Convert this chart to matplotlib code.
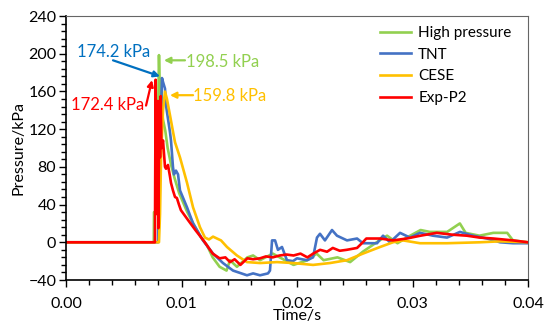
import matplotlib
matplotlib.use("Agg")
import matplotlib.pyplot as plt
from matplotlib.ticker import MultipleLocator

plt.rcParams['font.family'] = ['Lato', 'DejaVu Sans']

# time in s, pressure in kPa
t_high = [0, 0.0076, 0.00762, 0.0078, 0.00784, 0.00795, 0.00805, 0.0081, 0.00818, 0.00825,
          0.0083, 0.0084, 0.0086, 0.0088, 0.0091, 0.0094, 0.0098, 0.0105, 0.0111, 0.0117,
          0.0122, 0.0127, 0.0133, 0.0139, 0.0142, 0.0148, 0.0157, 0.0162, 0.0168, 0.0179,
          0.0185, 0.0197, 0.0209, 0.0217, 0.0223, 0.0235, 0.0246, 0.0257, 0.0269, 0.0278,
          0.0287, 0.0295, 0.0307, 0.0315, 0.0330, 0.0341, 0.0346, 0.0358, 0.0370, 0.0382,
          0.0387, 0.0400]
p_high = [0, 0, 32, 32, 110, 112, 198.5, 175, 150, 165,
          140, 130, 118, 100, 82, 68, 52, 32, 18, 5,
          -3, -16, -26, -30, -19, -26, -16, -14, -19, -12,
          -16, -24, -19, -12, -19, -16, -21, -10, 0, 7,
          -1, 5, 13, 11, 11, 20, 10, 7, 10, 10,
          2, 0]

t_tnt = [0, 0.00797, 0.0080, 0.0081, 0.00814, 0.00823, 0.00831, 0.0084, 0.00857, 0.00866,
         0.00883, 0.0090, 0.00909, 0.00926, 0.00935, 0.00952, 0.0097, 0.00987, 0.01048, 0.0110,
         0.01186, 0.01273, 0.01359, 0.01446, 0.01567, 0.0162, 0.0168, 0.01749, 0.01766, 0.01784,
         0.0181, 0.01835, 0.0187, 0.01913, 0.01965, 0.0200, 0.02087, 0.02139, 0.02173, 0.02199,
         0.02242, 0.02303, 0.02346, 0.02433, 0.0252, 0.02571, 0.02693, 0.02745, 0.02805, 0.02892,
         0.02978, 0.03065, 0.03177, 0.03299, 0.03411, 0.03524, 0.03645, 0.03758, 0.0387, 0.0400]
p_tnt = [0, 0, 26, 30, 97, 140, 174.2, 170, 163, 145,
         131, 117, 108, 80, 72, 76, 72, 55, 37, 20,
         2, -12, -22, -30, -35, -33, -35, -33, -30, 2,
         2, -8, -5, -19, -20, -17, -19, -16, 5, 9,
         2, 13, 7, 2, 4, -1, -1, 7, 0, 10,
         5, 10, 7, 5, 11, 7, 4, 0, -1, -1]

t_cese = [0, 0.00805, 0.00814, 0.00823, 0.0084, 0.00857, 0.00874, 0.0090, 0.0093, 0.00944,
          0.00987, 0.01048, 0.0110, 0.0116, 0.01203, 0.01238, 0.01273, 0.01307, 0.01342, 0.01394,
          0.0148, 0.01567, 0.0168, 0.01827, 0.01965, 0.02139, 0.02286, 0.02433, 0.02571, 0.02719,
          0.02831, 0.02918, 0.03065, 0.03299, 0.03584, 0.03758, 0.0400]
p_cese = [0, 0, 30, 90, 140, 159.8, 152, 135, 115, 106,
          90, 63, 37, 16, 5, 3, 6, 4, 2, -5,
          -14, -21, -22, -21, -22, -24, -22, -19, -12, -5,
          0, 2, -1, -1, 0, 1, 0]

t_exp = [0, 0.0077, 0.00776, 0.00781, 0.00786, 0.0079, 0.00797, 0.0080, 0.00808, 0.00814,
         0.0082, 0.00826, 0.0084, 0.00857, 0.00866, 0.00883, 0.0090, 0.00909, 0.00926, 0.00944,
         0.0096, 0.00978, 0.00995, 0.0106, 0.0112, 0.0119, 0.0127, 0.0133, 0.0138, 0.0142,
         0.0146, 0.0151, 0.0157, 0.0162, 0.0168, 0.0173, 0.0179, 0.0185, 0.0191, 0.0197,
         0.0203, 0.0209, 0.0214, 0.0220, 0.0226, 0.0231, 0.0237, 0.0243, 0.0252, 0.0257,
         0.0260, 0.0272, 0.0283, 0.0295, 0.0307, 0.0321, 0.0335, 0.0347, 0.0358, 0.0370,
         0.0387, 0.0400]
p_exp = [0, 0, 172.4, 30, 150, 60, 120, 15, 150, 90,
         155, 100, 108, 80, 78, 82, 70, 63, 55, 48,
         47, 40, 34, 23, 13, 2, -12, -17, -16, -21,
         -18, -24, -17, -18, -17, -15, -16, -14, -13, -14,
         -12, -16, -12, -8, -10, -6, -9, -8, -6, 0,
         4, 4, 2, 4, 7, 10, 8, 7, 5, 4,
         2, 0]

series = [
    ("High pressure", t_high, p_high, "#92D050"),
    ("TNT", t_tnt, p_tnt, "#4472C4"),
    ("CESE", t_cese, p_cese, "#FFC000"),
    ("Exp-P2", t_exp, p_exp, "#FF0000"),
]

fig = plt.figure(figsize=(5.46, 3.24), dpi=100)
ax = fig.add_axes([66 / 546, 1 - 280 / 324, 462 / 546, 264 / 324])

for name, t, p, c in series:
    ax.plot(t, p, color=c, lw=1.9, label=name)

ax.set_xlim(0, 0.04)
ax.set_ylim(-40, 240)
ax.xaxis.set_major_locator(MultipleLocator(0.01))
ax.xaxis.set_minor_locator(MultipleLocator(0.002))
ax.yaxis.set_major_locator(MultipleLocator(40))
ax.yaxis.set_minor_locator(MultipleLocator(8))
ax.xaxis.set_major_formatter(lambda v, pos: f"{v:.2f}")
ax.tick_params(which='major', direction='out', length=5, width=1, labelsize=11.5, pad=2)
ax.tick_params(axis='x', which='major', pad=7)
ax.tick_params(which='minor', direction='out', length=3.5, width=1)

for s in ['top', 'right']:
    ax.spines[s].set_color('#666666')
ax.spines['left'].set_linewidth(1.2)
ax.spines['bottom'].set_linewidth(1.2)

ax.set_xlabel("Time/s", fontsize=11.5, labelpad=-1)
ax.set_ylabel("Pressure/kPa", fontsize=11.5, labelpad=2)

# peak labels
labels = [
    ("174.2 kPa", 0.00416, 201.5, (0.00407, 193), (0.00814, 176), "#0070C0"),
    ("198.5 kPa", 0.01359, 190.9, (0.0103, 193), (0.00848, 193), "#92D050"),
    ("159.8 kPa", 0.0142, 154.8, (0.0110, 156), (0.0090, 156), "#FFC000"),
    ("172.4 kPa", 0.00364, 145.3, (0.00693, 145), (0.00745, 172), "#FF0000"),
]
for txt, tx, ty, start, end, c in labels:
    ax.text(tx, ty, txt, color=c, fontsize=12, ha='center', va='center')
    ax.annotate('', xy=end, xytext=start,
                arrowprops=dict(arrowstyle='-|>', color=c, lw=1.6, mutation_scale=9,
                                shrinkA=0, shrinkB=0))

ax.legend(loc='upper left', bbox_to_anchor=((380 - 66) / 462, (280 - 26) / 264),
          frameon=False, fontsize=11, borderpad=0, borderaxespad=0,
          handlelength=2.0, handletextpad=0.5, labelspacing=0.5)

fig.savefig("out.png", dpi=100)
